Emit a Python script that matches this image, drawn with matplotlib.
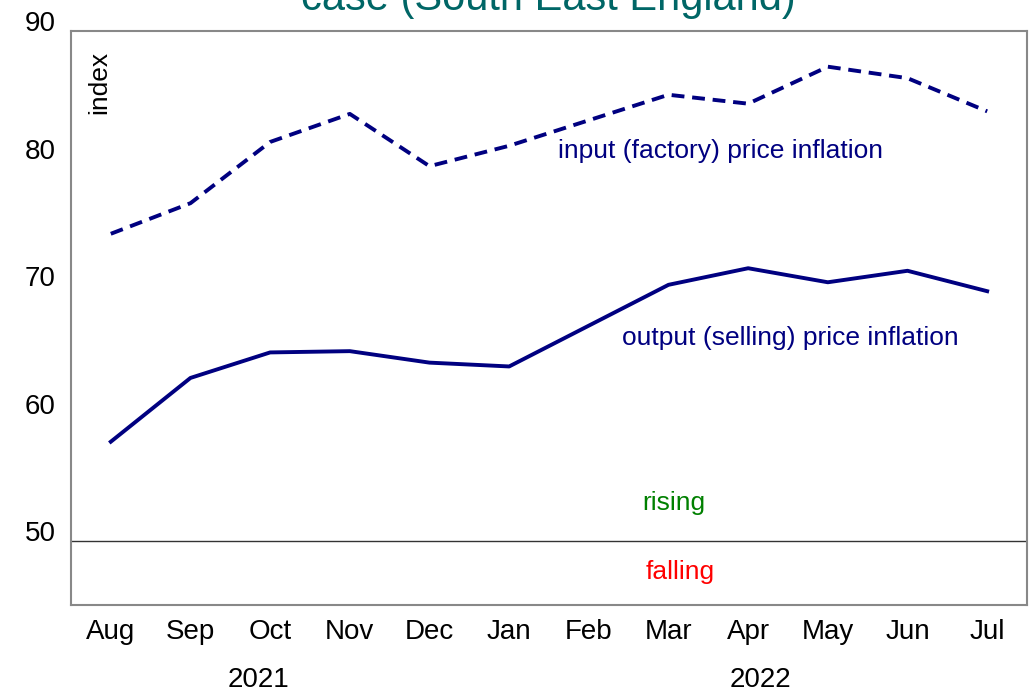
import matplotlib
matplotlib.use("Agg")
import matplotlib.pyplot as plt
import matplotlib.transforms as mtransforms

plt.rcParams['font.family'] = ['Liberation Sans Narrow', 'Liberation Sans', 'DejaVu Sans']

# Data
months = ['Aug', 'Sep', 'Oct', 'Nov', 'Dec', 'Jan', 'Feb', 'Mar', 'Apr', 'May', 'Jun', 'Jul']
input_prices = [74.1, 76.5, 81.3, 83.5, 79.4, 81.0, 83.0, 85.0, 84.3, 87.2, 86.3, 83.7]
output_prices = [57.8, 62.8, 64.8, 64.9, 64.0, 63.7, 66.9, 70.1, 71.4, 70.3, 71.2, 69.6]
years = ['2021', '2022']
y_ticks = [50, 60, 70, 80, 90]

navy = '#000080'
x = list(range(len(months)))

fig = plt.figure(figsize=(10.33, 6.93), dpi=100)
ax = fig.add_axes([0.0687, 0.127, 0.9255, 0.8283])

ax.plot(x, input_prices, color=navy, lw=2.8, dashes=(3.3, 2.0))
ax.plot(x, output_prices, color=navy, lw=2.8)
ax.axhline(50, color='#333333', lw=1.0)

ax.set_xlim(-0.5, 11.5)
ax.set_ylim(45, 90)

ax.set_xticks(x)
ax.set_xticklabels(months, fontsize=20)
ax.set_yticks(y_ticks)
ax.set_yticklabels([str(v) for v in y_ticks], fontsize=20, va='baseline')
ax.tick_params(axis='x', length=0, pad=10)
ax.tick_params(axis='y', length=0, pad=11)

for s in ax.spines.values():
    s.set_color('#888888')
    s.set_linewidth(1.5)

# year labels under the months
trans = mtransforms.blended_transform_factory(ax.transData, ax.transAxes)
ax.text(1.85, -0.13, years[0], transform=trans, ha='center', va='center', fontsize=20)
ax.text(8.15, -0.13, years[1], transform=trans, ha='center', va='center', fontsize=20)

# annotations
ax.text(7.65, 80.6, 'input (factory) price inflation', color=navy, fontsize=19,
        ha='center', va='center')
ax.text(8.53, 65.9, 'output (selling) price inflation', color=navy, fontsize=19,
        ha='center', va='center')
ax.text(7.07, 53.0, 'rising', color='#008000', fontsize=19, ha='center', va='center')
ax.text(7.15, 47.6, 'falling', color='#ff0000', fontsize=19, ha='center', va='center')
ax.text(-0.14, 86.0, 'index', rotation=90, fontsize=19, ha='center', va='center')

# title, clipped at the top edge as in the reference
fig.text(0.531, 0.985, 'case (South East England)', color='#006666', fontsize=30,
         ha='center', va='baseline')

fig.savefig('out.png', dpi=100)
